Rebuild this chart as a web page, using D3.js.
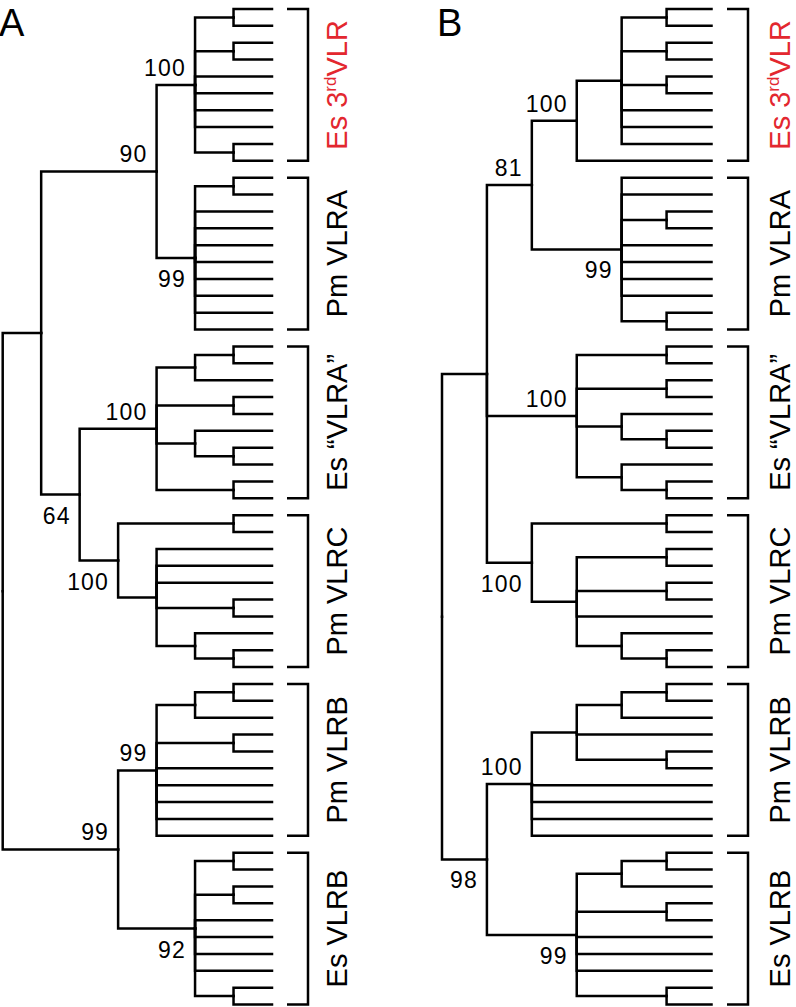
<!DOCTYPE html>
<html><head><meta charset="utf-8">
<script src="https://cdn.jsdelivr.net/npm/d3@7"></script>
<style>body{margin:0;background:#fff} svg{display:block}</style>
</head><body>
<svg id="chart" width="796" height="1007"></svg>
<script>
// ---------------- DATA ----------------
const panelLetters = ["A", "B"];
const groupNames = ["Es 3rdVLR", "Pm VLRA", "Es \u201CVLRA\u201D", "Pm VLRC", "Pm VLRB", "Es VLRB"];
const highlightedGroup = 0; // drawn in red

// Clade topologies (Newick, leaves = "a", internal labels = bootstrap support)
const cladesA = [
  "((a,a),(a,a),a,a,a,a,(a,a))100",
  "((a,a),a,a,a,a,a,a,a,a)99",
  "(((a,a),a),(a,a),(a,(a,a)),(a,a))100",
  "((a,a),(a,a,a,(a,a),(a,(a,a))))100",
  "(((a,a),a),(a,a),a,a,a,a,a)99",
  "((a,a),(a,a),a,a,a,a,(a,a))92"
];
const backboneA = "(((G0,G1)90,(G2,G3)64),(G4,G5)99)";
// side of each support label (pre-order): 90,100,99,64,100,100,99,99,92
const labelSideA = ["above", "above", "below", "below", "above", "below", "above", "above", "below"];

const cladesB = [
  "(((a,a),(a,a),(a,a),a,a,a),a)100",
  "(a,a,(a,a),a,a,a,a,(a,a))99",
  "((a,a),(a,a),(a,(a,a)),(a,(a,a)))100",
  "((a,a),((a,a),(a,a),a,(a,(a,a))))100",
  "((((a,a),a),a,(a,a)),a,a,a,a)100",
  "(((a,a),a),(a,a),a,a,a,(a,a))99"
];
const backboneB = "(((G0,G1)81,G2,G3),(G4,G5)98)";
// 81,100,99,100,100,98,100,99
const labelSideB = ["above", "above", "below", "above", "below", "below", "above", "below"];

// ---------------- HELPERS ----------------
function parseNewick(str) {
  const s = str.replace(/\s+/g, "");
  let i = 0;
  function node() {
    if (s[i] === "(") {
      i++;
      const ch = [node()];
      while (s[i] === ",") { i++; ch.push(node()); }
      i++; // ')'
      let lab = "";
      while (i < s.length && /[0-9]/.test(s[i])) lab += s[i++];
      return { children: ch, support: lab ? +lab : null };
    }
    let lab = "";
    while (i < s.length && /[A-Za-z0-9]/.test(s[i])) lab += s[i++];
    return { name: lab };
  }
  return node();
}
function buildTree(backbone, clades) {
  let nw = backbone;
  clades.forEach((c, k) => { nw = nw.replace("G" + k, c); });
  return parseNewick(nw);
}

const svg = d3.select("#chart");
const FONT = "Arial, 'Liberation Sans', Helvetica, sans-serif";
const RED = "#e3272f";
const nLeaves = 60;
const yLeaf = d3.scaleLinear().domain([0, nLeaves - 1]).range([9, 1004.5]);
const SW = 2.5;

function drawPanel(cfg) {
  const root = d3.hierarchy(buildTree(cfg.backbone, cfg.clades), d => d.children);
  const x = d3.scaleLinear().domain([0, root.height]).range([cfg.leafX, cfg.rootX]);
  root.leaves().forEach((l, k) => { l.idx = k; });
  root.eachAfter(n => {
    if (n.children) {
      n.py = (n.children[0].py + n.children[n.children.length - 1].py) / 2;
    } else n.py = yLeaf(n.idx);
    n.px = x(n.height);
  });

  const g = svg.append("g");
  g.selectAll("path.link")
    .data(root.descendants().filter(n => n.parent))
    .join("path")
    .attr("class", "link")
    .attr("d", n => `M${n.parent.px},${n.parent.py}V${n.py}H${n.px}`)
    .attr("fill", "none")
    .attr("stroke", "#000")
    .attr("stroke-width", SW)
    .attr("stroke-linejoin", "miter")
    .attr("stroke-linecap", "square");

  // support labels
  const supported = [];
  root.eachBefore(n => { if (n.data.support != null) supported.push(n); });
  g.selectAll("text.sup")
    .data(supported)
    .join("text")
    .attr("class", "sup")
    .attr("x", n => n.px - 9)
    .attr("y", (n, k) => cfg.sides[k] === "above" ? n.py - 9 : n.py + 29)
    .attr("text-anchor", "end")
    .attr("font-family", FONT)
    .attr("font-size", 23)
    .attr("letter-spacing", 1.2)
    .attr("fill", "#000")
    .text(n => n.data.support);

  // brackets and group names
  const leaves = root.leaves();
  const groups = groupNames.map((name, k) => {
    const gl = leaves.slice(k * 10, k * 10 + 10);
    return { name, k, y0: gl[0].py, y1: gl[gl.length - 1].py };
  });
  g.selectAll("path.br")
    .data(groups)
    .join("path")
    .attr("class", "br")
    .attr("d", d => `M${cfg.brX - 21},${d.y0}H${cfg.brX}V${d.y1}H${cfg.brX - 21}`)
    .attr("fill", "none")
    .attr("stroke", "#000")
    .attr("stroke-width", SW);

  const lab = g.selectAll("text.grp")
    .data(groups)
    .join("text")
    .attr("class", "grp")
    .attr("transform", d => `translate(${cfg.textX},${(d.y0 + d.y1) / 2}) rotate(-90)`)
    .attr("text-anchor", "middle")
    .attr("font-family", FONT)
    .attr("font-size", 29)
    .attr("fill", d => d.k === highlightedGroup ? RED : "#000");
  lab.each(function (d) {
    const t = d3.select(this);
    if (d.name.includes("3rd")) {
      const [pre, post] = d.name.split("rd");
      t.append("tspan").text(pre);
      t.append("tspan").attr("font-size", 17).attr("dy", -11).text("rd");
      t.append("tspan").attr("dy", 11).text(post);
    } else t.text(d.name);
  });

  svg.append("text")
    .attr("x", cfg.letterX).attr("y", 36)
    .attr("font-family", FONT).attr("font-size", 38)
    .attr("fill", "#000")
    .text(cfg.letter);
}

drawPanel({ letter: panelLetters[0], letterX: -1, backbone: backboneA, clades: cladesA, sides: labelSideA,
  leafX: 272, rootX: 2.7, brX: 308, textX: 347 });
drawPanel({ letter: panelLetters[1], letterX: 437, backbone: backboneB, clades: cladesB, sides: labelSideB,
  leafX: 711.5, rootX: 442, brX: 748, textX: 790 });
</script>
</body></html>
